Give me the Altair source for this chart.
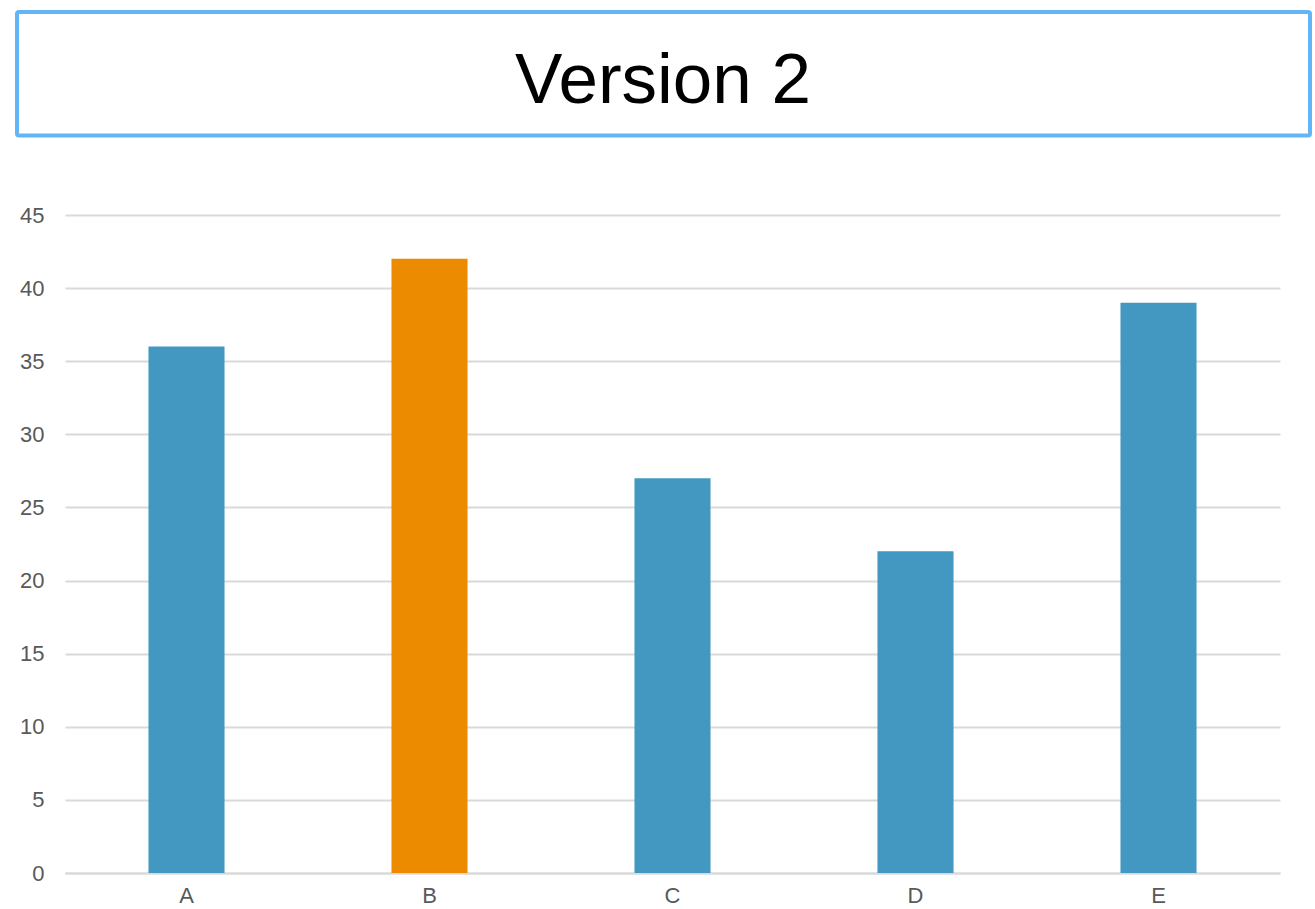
import altair as alt
import pandas as pd

categories = ["A", "B", "C", "D", "E"]
values = [36, 42, 27, 22, 39]
highlight = ["no", "yes", "no", "no", "no"]
title_text = ["Version 2"]

df = pd.DataFrame({"cat": categories, "val": values, "hl": highlight})
tdf = pd.DataFrame({"t": title_text})

bars = alt.Chart(df).mark_bar().encode(
    x=alt.X("cat:N", sort=categories,
            scale=alt.Scale(paddingInner=0.687, paddingOuter=0.3435),
            axis=alt.Axis(title=None, labelAngle=0, labelFontSize=22, labelColor="#595959",
                          labelFont="Liberation Sans", ticks=False, domainColor="#d9d9d9",
                          domainWidth=2, labelPadding=12, grid=False)),
    y=alt.Y("val:Q", scale=alt.Scale(domain=[0, 45]),
            axis=alt.Axis(title=None, values=list(range(0, 50, 5)), labelFontSize=22,
                          labelColor="#595959", labelFont="Liberation Sans", ticks=False,
                          domain=False, gridColor="#d9d9d9", gridWidth=2, labelPadding=21)),
    color=alt.Color("hl:N", scale=alt.Scale(domain=["no", "yes"], range=["#4398c1", "#ec8b00"]),
                    legend=None),
)

box = alt.Chart(tdf).mark_rect(fill="white", fillOpacity=0, stroke="#64b5f6", strokeWidth=4,
                               cornerRadius=2).encode(
    x=alt.value(-48), x2=alt.value(1245), y=alt.value(-203), y2=alt.value(-79.5)
)

title = alt.Chart(tdf).mark_text(font="Liberation Sans", fontSize=71, color="black",
                                 align="center", baseline="alphabetic").encode(
    text="t:N", x=alt.value(598), y=alt.value(-112)
)

chart = alt.layer(box, title, bars).properties(
    width=1215, height=658,
    padding={"left": 15, "top": 10, "right": 0, "bottom": 0},
).configure_view(strokeWidth=0)

chart.save("out.html", embed_options={"renderer": "svg", "actions": False})
